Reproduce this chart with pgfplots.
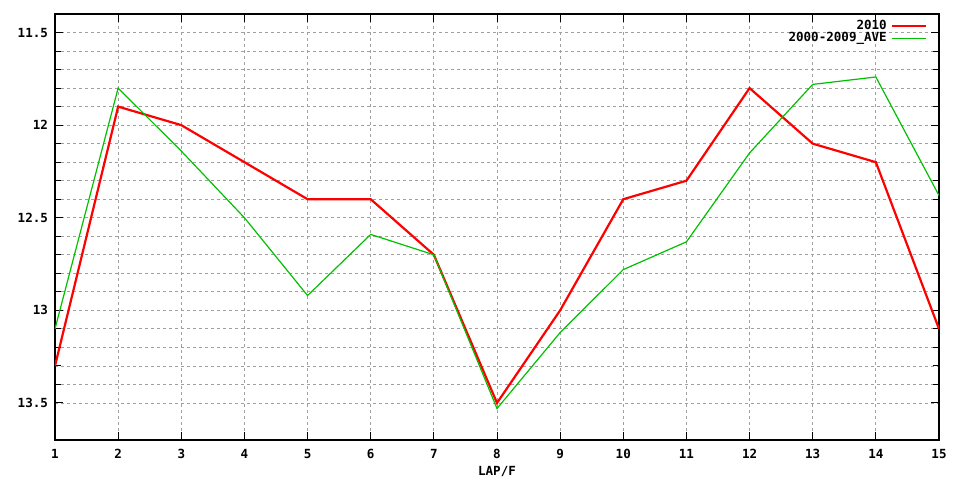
\documentclass[border=0pt]{standalone}
\usepackage{fontspec}
\setmainfont{DejaVu Sans Mono}
\usepackage{pgfplots}
\pgfplotsset{compat=1.18}
\definecolor{gpred}{HTML}{FF0000}
\definecolor{gpgreen}{HTML}{00C000}
\definecolor{gridgray}{HTML}{A0A0A0}

\begin{document}
\begin{tikzpicture}
\useasboundingbox (-27.5bp,-20bp) rectangle (452.5bp,220bp);
\begin{axis}[
    at={(0,0)}, anchor=south west,
    scale only axis,
    width=442bp, height=213bp,
    xmin=1, xmax=15,
    ymin=11.4, ymax=13.7,
    y dir=reverse,
    xtick={1,...,15},
    ytick={11.5,12,12.5,13,13.5},
    minor y tick num=4,
    grid=both,
    major grid style={gridgray, dash pattern=on 1.5bp off 1.5bp, line width=0.4bp},
    minor grid style={gridgray, dash pattern=on 1.5bp off 1.5bp, line width=0.4bp},
    axis line style={black, line width=0.6bp},
    tick style={black, line width=0.5bp},
    major tick length=4bp,
    minor tick length=3bp,
    tick align=inside,
    font=\fontsize{6.3}{7}\selectfont\bfseries,
    /pgf/number format/assume math mode=true,
    yticklabel style={/pgf/number format/fixed},
    xlabel={LAP/F},
    xlabel style={yshift=3bp},
    xticklabel style={yshift=-1bp},
    legend plot pos=right,
    legend cell align=right,
    legend style={draw=none, fill=none, at={(0.988,0.998)}, anchor=north east,
        row sep=-4.2bp, inner sep=0.5bp,
        font=\fontsize{6.3}{7}\selectfont\bfseries},
]
\addplot[gpred, line width=1.1bp] coordinates {
    (1,13.3) (2,11.9) (3,12.0) (4,12.2) (5,12.4) (6,12.4) (7,12.7) (8,13.5)
    (9,13.0) (10,12.4) (11,12.3) (12,11.8) (13,12.1) (14,12.2) (15,13.1)
};
\addlegendentry{2010}
\addplot[gpgreen, line width=0.6bp] coordinates {
    (1,13.1) (2,11.8) (3,12.14) (4,12.5) (5,12.92) (6,12.59) (7,12.7) (8,13.53)
    (9,13.12) (10,12.78) (11,12.63) (12,12.15) (13,11.78) (14,11.74) (15,12.38)
};
\addlegendentry{2000-2009\_AVE}
\end{axis}
\end{tikzpicture}
\end{document}
